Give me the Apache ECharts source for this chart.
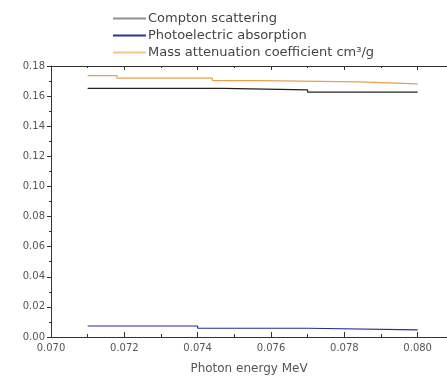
<!DOCTYPE html>
<html><head><meta charset="utf-8">
<script src="https://cdn.jsdelivr.net/npm/echarts@6/dist/echarts.min.js"></script>
<style>html,body{margin:0;padding:0;background:#fff}#c{width:447px;height:387px}</style>
</head><body><div id="c"></div>
<script>
const seriesNames = ['Compton scattering', 'Photoelectric absorption', 'Mass attenuation coefficient cm\u00b3/g'];
const comptonX = [0.071, 0.0747, 0.077, 0.080];
const comptonY = [0.1652, 0.1641, 0.1626, 0.1626];
const photoX = [0.071, 0.074, 0.077, 0.080];
const photoY = [0.0073, 0.0058, 0.0047, 0.0047];
const massX = [0.071, 0.0718, 0.0744, 0.0757, 0.0784, 0.080];
const massY = [0.1736, 0.1719, 0.1703, 0.1694, 0.1681, 0.1681];
const xTicks = [0.070, 0.072, 0.074, 0.076, 0.078, 0.080];
const yTicks = [0.00, 0.02, 0.04, 0.06, 0.08, 0.10, 0.12, 0.14, 0.16, 0.18];

// build horizontal-then-vertical step polyline from breakpoints
const steps = (xs, ys) => {
  const out = [];
  for (let i = 0; i < xs.length; i++) {
    if (i > 0) out.push([xs[i], ys[i - 1]]);
    out.push([xs[i], ys[i]]);
  }
  return out;
};
const font = 'DejaVu Sans, Verdana, sans-serif';
const chart = echarts.init(document.getElementById('c'));
const axisCommon = {
  type: 'value', min: 0.070, max: 0.0808, interval: 0.002,
  axisLine: {show: true, lineStyle: {color: '#333', width: 1}},
  splitLine: {show: false}
};
const legendColors = ['#909090', '#30309a', '#f0c888'];
chart.setOption({
  animation: false,
  backgroundColor: '#fff',
  grid: {left: 51, right: 0, top: 66, bottom: 50},
  legend: {
    orient: 'vertical', left: 108, top: 7, itemGap: 4,
    itemWidth: 33, itemHeight: 2,
    textStyle: {fontFamily: font, fontSize: 13, color: '#444', padding: [0, 0, 0, -3]},
    data: seriesNames.map((n, i) => ({
      name: n, icon: 'rect',
      itemStyle: {color: legendColors[i], borderWidth: 0}
    }))
  },
  xAxis: [
    Object.assign({}, axisCommon, {
      position: 'bottom',
      name: 'Photon energy MeV', nameLocation: 'middle', nameGap: 26,
      nameTextStyle: {fontFamily: font, fontSize: 12, color: '#555'},
      axisTick: {show: true, inside: true, length: 5, lineStyle: {color: '#333'}},
      minorTick: {show: true, splitNumber: 2, length: 3, lineStyle: {color: '#333'}},
      axisLabel: {fontFamily: font, fontSize: 10, color: '#555', margin: 6, showMaxLabel: false,
        formatter: v => xTicks.some(t => Math.abs(t - v) < 1e-9) ? v.toFixed(3) : ''}
    }),
    Object.assign({}, axisCommon, {
      position: 'top',
      axisTick: {show: true, inside: true, length: 4, lineStyle: {color: '#333'}},
      minorTick: {show: true, splitNumber: 2, length: 2, lineStyle: {color: '#333'}},
      axisLabel: {show: false}
    })
  ],
  yAxis: {
    type: 'value', min: 0, max: 0.18, interval: 0.02,
    axisLine: {show: true, lineStyle: {color: '#333', width: 1}},
    axisTick: {show: true, length: 4, lineStyle: {color: '#333'}},
    minorTick: {show: true, splitNumber: 2, length: 2, lineStyle: {color: '#333'}},
    splitLine: {show: false},
    axisLabel: {fontFamily: font, fontSize: 10, color: '#555', margin: 6,
      formatter: v => yTicks.some(t => Math.abs(t - v) < 1e-9) ? v.toFixed(2) : ''}
  },
  series: [
    {name: seriesNames[0], type: 'line', showSymbol: false,
     data: steps(comptonX, comptonY), itemStyle: {color: legendColors[0]},
     lineStyle: {color: '#222', width: 1.2}},
    {name: seriesNames[1], type: 'line', showSymbol: false,
     data: steps(photoX, photoY), itemStyle: {color: legendColors[1]},
     lineStyle: {color: '#2b2b9a', width: 1.2}},
    {name: seriesNames[2], type: 'line', showSymbol: false,
     data: steps(massX, massY), itemStyle: {color: legendColors[2]},
     lineStyle: {color: '#e8a04a', width: 1.2}}
  ]
});
</script></body></html>
